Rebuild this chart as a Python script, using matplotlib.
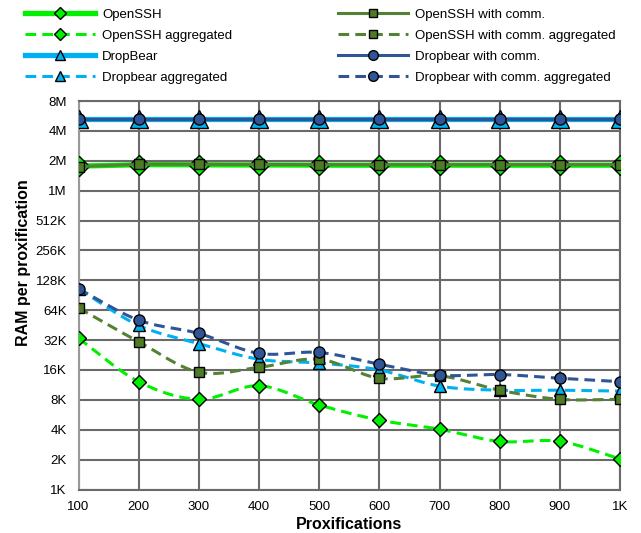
import matplotlib.pyplot as plt
import numpy as np
from matplotlib.lines import Line2D

plt.rcParams['font.family'] = ['Liberation Sans', 'DejaVu Sans']

# x categories (number of proxifications)
proxifications = ['100', '200', '300', '400', '500', '600', '700', '800', '900', '1K']

# RAM per proxification, in KB
openssh = [1810, 1870, 1860, 1860, 1850, 1850, 1850, 1850, 1850, 1850]
openssh_agg = [33.3, 12.2, 8.1, 11.1, 7.1, 5.0, 4.05, 3.05, 3.05, 2.03]
dropbear = [5400, 5400, 5400, 5400, 5400, 5400, 5400, 5400, 5400, 5400]
dropbear_agg = [105, 45, 29.5, 20.5, 18.8, 16, 11, 10, 10, 9.8]
openssh_comm = [1790, 1880, 1880, 1880, 1870, 1870, 1870, 1870, 1870, 1870]
openssh_comm_agg = [67.5, 30.8, 15.2, 17.0, 20.5, 13.2, 14.0, 10.0, 8.1, 8.1]
dropbear_comm = [5450, 5450, 5450, 5450, 5450, 5450, 5450, 5450, 5450, 5450]
dropbear_comm_agg = [105, 50.8, 37.3, 23.5, 24.0, 18.3, 14.2, 14.4, 13.2, 12.2]

y_ticks = [1, 2, 4, 8, 16, 32, 64, 128, 256, 512, 1024, 2048, 4096, 8192]
y_labels = ['1K', '2K', '4K', '8K', '16K', '32K', '64K', '128K', '256K', '512K',
            '1M', '2M', '4M', '8M']


def smooth(x, y, n=20):
    # Catmull-Rom curve through the points, in log2 space (like Excel smoothed lines)
    x = np.asarray(x, float)
    ly = np.log2(np.asarray(y, float))
    px = np.concatenate([[2 * x[0] - x[1]], x, [2 * x[-1] - x[-2]]])
    py = np.concatenate([[2 * ly[0] - ly[1]], ly, [2 * ly[-1] - ly[-2]]])
    xs, ys = [], []
    for i in range(1, len(px) - 2):
        t = np.linspace(0, 1, n, endpoint=False)
        for arr, out in ((px, xs), (py, ys)):
            p0, p1, p2, p3 = arr[i - 1], arr[i], arr[i + 1], arr[i + 2]
            out.extend(0.5 * (2 * p1 + (-p0 + p2) * t
                              + (2 * p0 - 5 * p1 + 4 * p2 - p3) * t ** 2
                              + (-p0 + 3 * p1 - 3 * p2 + p3) * t ** 3))
    xs.append(x[-1])
    ys.append(ly[-1])
    return np.array(xs), 2 ** np.array(ys)


fig = plt.figure(figsize=(6.41, 5.33), dpi=100)
ax = fig.add_axes([78.5 / 641, 43.5 / 533, 541.5 / 641, 388.5 / 533])

idx = np.arange(len(proxifications))

# name, values, colour, style, line width, marker, marker size, legend marker size
series = [
    ('OpenSSH', openssh, '#00F000', '-', 3.8, 'D', 10, 6),
    ('OpenSSH aggregated', openssh_agg, '#00F000', '--', 2.2, 'D', 7, 6),
    ('DropBear', dropbear, '#00B0F0', '-', 3.8, '^', 13, 7),
    ('Dropbear aggregated', dropbear_agg, '#00B0F0', '--', 2.2, '^', 9, 7),
    ('OpenSSH with comm.', openssh_comm, '#548235', '-', 2.2, 's', 6.5, 6),
    ('OpenSSH with comm. aggregated', openssh_comm_agg, '#548235', '--', 2.2, 's', 6.5, 6),
    ('Dropbear with comm.', dropbear_comm, '#2F5597', '-', 2.2, 'o', 8, 7),
    ('Dropbear with comm. aggregated', dropbear_comm_agg, '#2F5597', '--', 2.2, 'o', 8, 7),
]

handles = []
for i, (name, vals, color, ls, lw, mk, ms, lms) in enumerate(series):
    sx, sy = smooth(idx, vals)
    dashes = (3.5, 2) if ls == '--' else None
    line, = ax.plot(sx, sy, color=color, lw=lw, zorder=3 + i)
    if dashes:
        line.set_dashes(dashes)
    mface = '#4F7A28' if mk == 's' else color
    ax.plot(idx, vals, ls='none', marker=mk, ms=ms, mfc=mface, mec='black',
            mew=1, zorder=3 + i)
    h = Line2D([], [], color=color, lw=lw, marker=mk, ms=lms, mfc=mface,
               mec='black', mew=1)
    if dashes:
        h.set_dashes(dashes)
    handles.append(h)

ax.set_yscale('log', base=2)
ax.set_ylim(1, 8192)
ax.set_yticks(y_ticks)
ax.set_yticklabels(y_labels)
ax.minorticks_off()
ax.set_xlim(0, len(proxifications) - 1)
ax.set_xticks(idx)
ax.set_xticklabels(proxifications)
ax.tick_params(axis='y', length=0, labelsize=9.5, pad=8.5)
ax.tick_params(axis='x', length=0, labelsize=9.5, pad=8)
ax.grid(True, color='#6A6A6A', lw=1.5)
ax.set_axisbelow(True)
for side in ['top', 'right', 'bottom']:
    ax.spines[side].set_color('#6A6A6A')
    ax.spines[side].set_linewidth(1.5)
ax.spines['left'].set_color('#999999')
ax.spines['left'].set_linewidth(1.5)

ax.set_xlabel('Proxifications', fontsize=11.5, fontweight='bold', labelpad=3)
ax.set_ylabel('RAM per proxification', fontsize=11.5, fontweight='bold')
ax.yaxis.set_label_coords(-0.088, 0.585)

fig.legend(handles, [s[0] for s in series], ncol=2, loc='upper left',
           bbox_to_anchor=(25 / 641, 1 - 8.5 / 533), frameon=False,
           fontsize=9.5, handlelength=5.3, handletextpad=0.53,
           labelspacing=0.66, columnspacing=8.0, borderaxespad=0, borderpad=0)

fig.savefig('out.png', dpi=100)
